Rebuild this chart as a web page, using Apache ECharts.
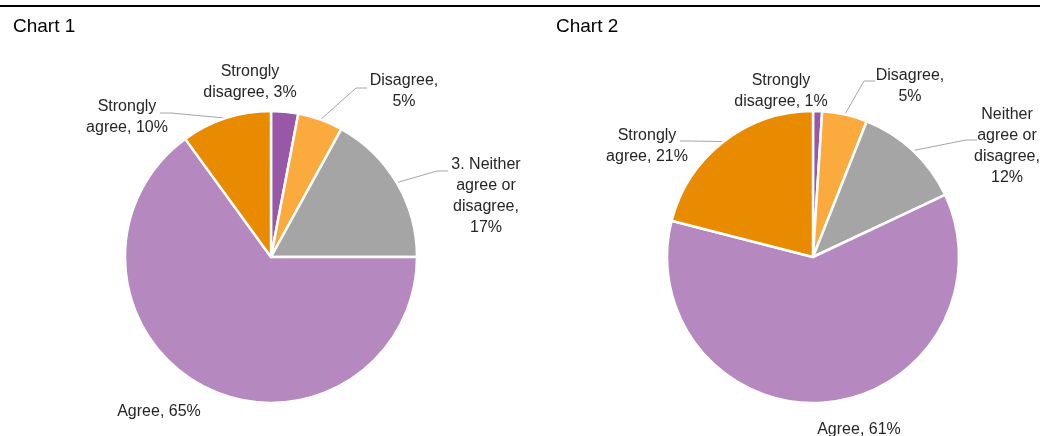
<!DOCTYPE html>
<html>
<head>
<meta charset="utf-8">
<style>
  html, body { margin: 0; padding: 0; background: #fff; }
  #chart { width: 1040px; height: 436px; }
</style>
<script src="https://cdn.jsdelivr.net/npm/echarts@6/dist/echarts.min.js"></script>
</head>
<body>
<div id="chart"></div>
<script>
// Response categories, in clockwise order from 12 o'clock
const categories1 = ['Strongly\ndisagree', 'Disagree', '3. Neither\nagree or\ndisagree', 'Agree', 'Strongly\nagree'];
const categories2 = ['Strongly\ndisagree', 'Disagree', 'Neither\nagree or\ndisagree', 'Agree', 'Strongly\nagree'];
// Shares (%)
const values1 = [3, 5, 17, 65, 10];
const values2 = [1, 5, 12, 61, 21];
const titles = ['Chart 1', 'Chart 2'];

const sliceColors = ['#9857a7', '#fbab3e', '#a5a5a5', '#b589c0', '#e98b00'];
// Separator between category and value ("Disagree,\n5%" wraps onto its own line)
const valueSep = [', ', ',\n', ',\n', ', ', ', '];
const labelFont = '"Liberation Sans", Arial, sans-serif';

// Label anchor points (centre of each text block) per chart
const labelSpots = [
  [[250, 82], [404, 91], [486, 196], [159, 412], [127, 117]],
  [[781, 91], [910, 86], [1007, 146], [859, 430], [647, 146]]
];
// Where each leader line meets its label, relative to the label centre (null = no leader)
const leaderEnds = [
  [null, [-37, -3], [-38, -25], null, [33, -4]],
  [null, [-35, -5], [-30, -6], null, [33, -5]]
];
const leaderRun = 11; // horizontal run of the leader next to the label

function buildData(cats, vals, idx) {
  return cats.map((c, i) => ({
    name: c,
    value: vals[i],
    sep: valueSep[i],
    itemStyle: { color: sliceColors[i] },
    labelLine: { show: leaderEnds[idx][i] !== null }
  }));
}

function pieSeries(idx, cats, vals, cx) {
  return {
    type: 'pie',
    center: [cx, 257],
    radius: 146,
    startAngle: 90,
    clockwise: true,
    avoidLabelOverlap: false,
    silent: true,
    animation: false,
    itemStyle: { borderColor: '#ffffff', borderWidth: 2.5 },
    label: {
      show: true,
      position: 'outside',
      formatter: p => p.name + p.data.sep + p.value + '%',
      fontFamily: labelFont,
      fontSize: 16,
      lineHeight: 21,
      color: '#262626',
      align: 'center'
    },
    labelLine: {
      show: true,
      length: 10,
      length2: 10,
      lineStyle: { color: '#a6a6a6', width: 1 }
    },
    labelLayout: function (p) {
      const s = labelSpots[idx][p.dataIndex];
      const out = { x: s[0], y: s[1], align: 'center', verticalAlign: 'middle' };
      const e = leaderEnds[idx][p.dataIndex];
      if (e && p.labelLinePoints && p.labelLinePoints.length) {
        const start = p.labelLinePoints[0];
        const end = [s[0] + e[0], s[1] + e[1]];
        const dir = start[0] < end[0] ? -1 : 1;
        out.labelLinePoints = [
          [start[0], start[1]],
          [end[0] + dir * leaderRun, end[1]],
          end
        ];
      }
      return out;
    },
    data: buildData(cats, vals, idx)
  };
}

const titleStyle = { fontFamily: '"Liberation Sans", Arial, sans-serif', fontSize: 19, fontWeight: 'normal', color: '#000' };

const chart = echarts.init(document.getElementById('chart'), null, { renderer: 'canvas' });
chart.setOption({
  backgroundColor: '#ffffff',
  animation: false,
  title: [
    { text: titles[0], left: 8, top: 12, textStyle: titleStyle },
    { text: titles[1], left: 551, top: 12, textStyle: titleStyle }
  ],
  graphic: [
    { type: 'rect', shape: { x: 0, y: 5, width: 1040, height: 2 }, style: { fill: '#000' }, silent: true }
  ],
  series: [
    pieSeries(0, categories1, values1, 271),
    pieSeries(1, categories2, values2, 813)
  ]
});
</script>
</body>
</html>
